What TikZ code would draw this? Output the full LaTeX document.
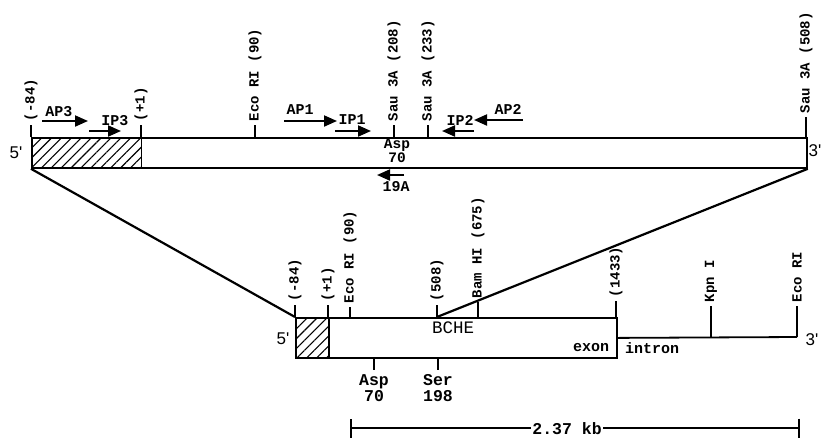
\documentclass[tikz,border=0pt]{standalone}
\usepackage{fontspec}
\setmonofont{Liberation Mono}
\setsansfont{Liberation Sans}
\usetikzlibrary{arrows.meta,patterns.meta}

\begin{document}
\begin{tikzpicture}[x=1pt, y=-1pt, line width=1.8pt,
  bx/.style={draw, line width=1.8pt, inner sep=0, anchor=north west},
  hatch/.style={bx, pattern={Lines[angle=45, distance=7pt, line width=1.1pt]}},
  site/.style={rotate=90, anchor=west, inner sep=3pt, font=\fontsize{14}{14}\selectfont\ttfamily\bfseries},
  prm/.style={-{Triangle[length=13pt, width=11pt]}, line width=2pt},
  plbl/.style={inner sep=0, font=\fontsize{15}{15}\selectfont\ttfamily\bfseries},
  aa/.style={align=center, inner sep=0, font=\fontsize{16.5}{16}\selectfont\ttfamily\bfseries},
  strand/.style={inner sep=0, font=\fontsize{17}{17}\selectfont\sffamily},
  lnk/.style={line width=2.2pt},
]
\useasboundingbox (0,0) rectangle (821,437);

% cDNA clone
\node[bx, minimum width=775pt, minimum height=30pt] (cdna) at (31,137) {};
\node[hatch, minimum width=110pt, minimum height=30pt] (utr) at (31,137) {};
\node[strand] (five1) at (16,153) {5\textquotesingle};
\node[strand] (three1) at (815,151) {3\textquotesingle};
\foreach \x/\h/\t in {31/12/{(-84)}, 141/12/{(+1)}, 255/12/{Eco RI (90)},
    394/12/{Sau 3A (208)}, 428/12/{Sau 3A (233)}, 806/20/{Sau 3A (508)}}
  \draw (\x,137) -- ++(0,-\h) node[site] (top\x) {\t};

% primers
\draw[prm] (42,121) -- (88,121);
\node[plbl] (ap3) at (59,112) {AP3};
\draw[prm] (89,131) -- (121,131);
\node[plbl] (ip3) at (115,121) {IP3};
\draw[prm] (284,121) -- (337,121);
\node[plbl] (ap1) at (300,110) {AP1};
\draw[prm] (335,131) -- (371,131);
\node[plbl] (ip1) at (352,120) {IP1};
\draw[prm] (474,131) -- (442,131);
\node[plbl] (ip2) at (460,120) {IP2};
\draw[prm] (523,120) -- (474,120);
\node[plbl] (ap2) at (508,109) {AP2};
\draw[prm] (404,175) -- (377,175);
\node[plbl] (p19a) at (396,187) {19A};
\node[aa, font=\fontsize{14.5}{12.5}\selectfont\ttfamily\bfseries] (asp1) at (397,151) {Asp\\70};

% genomic clone
\node[bx, minimum width=321pt, minimum height=40pt] (gene) at (295,317) {};
\node[hatch, minimum width=33pt, minimum height=40pt] (utr2) at (295,317) {};
\node[strand] (five2) at (283,339) {5\textquotesingle};
\node[strand] (three2) at (812,340) {3\textquotesingle};
\node[font=\fontsize{17.5}{17}\selectfont\ttfamily] (bche) at (453,328) {BCHE};
\node[plbl] (exon) at (591,348) {exon};
\node[plbl] (intron) at (652,348) {intron};
\coordinate (ie) at (797,337);
\draw (gene.east) -- (ie);
\foreach \x/\y/\h/\t in {295/317/12/{(-84)}, 328/317/12/{(+1)}, 350/317/10/{Eco RI (90)},
    437/317/12/{(508)}, 478/317/15/{Bam HI (675)}, 616/317/16/{(1433)},
    711/337/31/{Kpn I}, 797/337/31/{Eco RI}}
  \draw (\x,\y) -- ++(0,-\h) node[site] (bot\x) {\t};
\foreach \x/\t in {374/{Asp\\70}, 438/{Ser\\198}}
  \draw (\x,357) -- ++(0,13) node[aa, anchor=north, yshift=-4pt] (res\x) {\t};

% links between the two
\coordinate (c508) at (437,317);
\draw[lnk] (cdna.south west) -- (gene.north west);
\draw[lnk] (cdna.south east) -- (c508);

% scale bar
\coordinate (sbl) at (350,428);
\coordinate (sbr) at (800,428);
\draw[{Bar[width=19pt]}-{Bar[width=19pt]}] (sbl) -- (sbr);
\node[aa, fill=white, inner sep=1pt] (kb) at (567,429) {2.37 kb};
\end{tikzpicture}
\end{document}
